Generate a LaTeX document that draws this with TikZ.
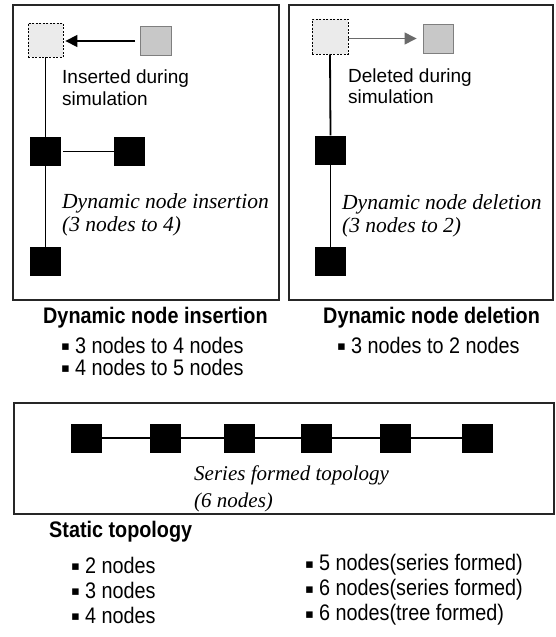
\documentclass[tikz,border=0pt]{standalone}
\usepackage{fontspec}
\setmainfont{Liberation Sans}
\newfontfamily\condf[FakeStretch=0.88]{Liberation Sans}
\newfontfamily\serifit{Liberation Serif}
\newfontfamily\symf{DejaVu Sans}
\usetikzlibrary{arrows.meta}
\definecolor{dashfill}{HTML}{EBEBEB}
\definecolor{grayfill}{HTML}{C8C8C8}
\definecolor{grayedge}{HTML}{7F7F7F}
\definecolor{arrgray}{HTML}{6A6A6A}
\newcommand{\bul}{\makebox[14pt][l]{\raisebox{2.4pt}{\symf\fontsize{13}{13}\selectfont ▪}}}
\begin{document}
\begin{tikzpicture}[x=1pt,y=-1pt,
  panel/.style={draw=black!85, line width=1.4pt},
  blk/.style={fill=black, minimum width=31pt, minimum height=29pt, inner sep=0pt},
  ghost/.style={draw=black, fill=dashfill, minimum width=35pt, minimum height=34pt, inner sep=0pt, line width=0.8pt, dash pattern=on 2pt off 1.5pt},
  gsq/.style={draw=grayedge, fill=grayfill, minimum width=31pt, minimum height=29pt, inner sep=0pt, line width=0.9pt},
  link/.style={line width=1.8pt},
  lbl/.style={anchor=west, inner sep=0pt, font=\fontsize{19}{21.5}\selectfont, align=left},
  ital/.style={anchor=west, inner sep=0pt, font=\serifit\itshape\fontsize{21.5}{23.5}\selectfont, align=left},
  head/.style={anchor=west, inner sep=0pt, font=\condf\bfseries\fontsize{22.5}{24}\selectfont},
  item/.style={anchor=west, inner sep=0pt, font=\condf\fontsize{22.5}{24}\selectfont},
]
\useasboundingbox (0,0) rectangle (556,637);
% panels
\draw[panel] (13,5) rectangle (279,300);
\draw[panel] (289,5) rectangle (553,300);
\draw[panel] (14,403) rectangle (554,514);

% left panel: insertion
\node[ghost] (gl) at (45.5,40) {};
\node[gsq] (sl) at (156,41) {};
\node[blk] (l1) at (45.5,151.5) {};
\node[blk] (l2) at (129.5,151.5) {};
\node[blk] (l3) at (45.5,261.5) {};
\draw[line width=1.2pt, -{Triangle[length=12pt,width=12pt]}, shorten <=5pt, shorten >=2pt] (sl.west) -- (gl.east |- sl.west);
\draw[link] (gl.south) -- (l1.north);
\draw[link] (l1.south) -- (l3.north);
\draw[link, shorten <=2pt] (l1.east) -- (l2.west);
\node[lbl] (tl) at (62,87.5) {Inserted during\\simulation};
\node[ital] (il) at (62,215) {Dynamic node insertion\\(3 nodes to 4)};

% right panel: deletion
\node[ghost, minimum width=36pt, minimum height=35pt] (gr) at (330,36.5) {};
\node[gsq, minimum width=30pt] (sr) at (438,38.5) {};
\node[blk] (r1) at (330.5,150) {};
\node[blk] (r2) at (330.5,261.5) {};
\draw[line width=1.3pt, arrgray, -{Triangle[length=12pt,width=12pt]}, shorten >=6pt] (gr.east |- sr.west) -- (sr.west);
\draw[link] (gr.south) -- (r1.north);
\draw[link] (r1.south) -- (r2.north);
\node[lbl] (tr) at (348,86) {Deleted during\\simulation};
\node[ital] (ir) at (342,216) {Dynamic node deletion\\(3 nodes to 2)};

% bottom panel: series
\foreach \i/\x in {1/86.5,2/165.5,3/239.5,4/316.5,5/395.5,6/477.5}
  \node[blk] (s\i) at (\x,438) {};
\foreach \a/\b in {1/2,2/3,3/4,4/5,5/6}
  \draw[link] (s\a.east) -- (s\b.west);
\node[ital, font=\serifit\itshape\fontsize{21}{27}\selectfont] (is) at (194,488.5) {Series formed topology\\(6 nodes)};

% lists
\node[head] (h1) at (43,318) {Dynamic node insertion};
\node[item] (a1) at (61,345) {\bul 3 nodes to 4 nodes};
\node[item] (a2) at (61,367) {\bul 4 nodes to 5 nodes};
\node[head] (h2) at (323,318) {Dynamic node deletion};
\node[item] (b1) at (337,345) {\bul 3 nodes to 2 nodes};
\node[head] (h3) at (49,532) {Static topology};
\node[item] (c1) at (71,565) {\bul 2 nodes};
\node[item] (c2) at (71,590) {\bul 3 nodes};
\node[item] (c3) at (71,615) {\bul 4 nodes};
\node[item] (d1) at (305,565) {\bul 5 nodes(series formed)};
\node[item] (d2) at (305,590) {\bul 6 nodes(series formed)};
\node[item] (d3) at (305,615) {\bul 6 nodes(tree formed)};
\end{tikzpicture}
\end{document}
